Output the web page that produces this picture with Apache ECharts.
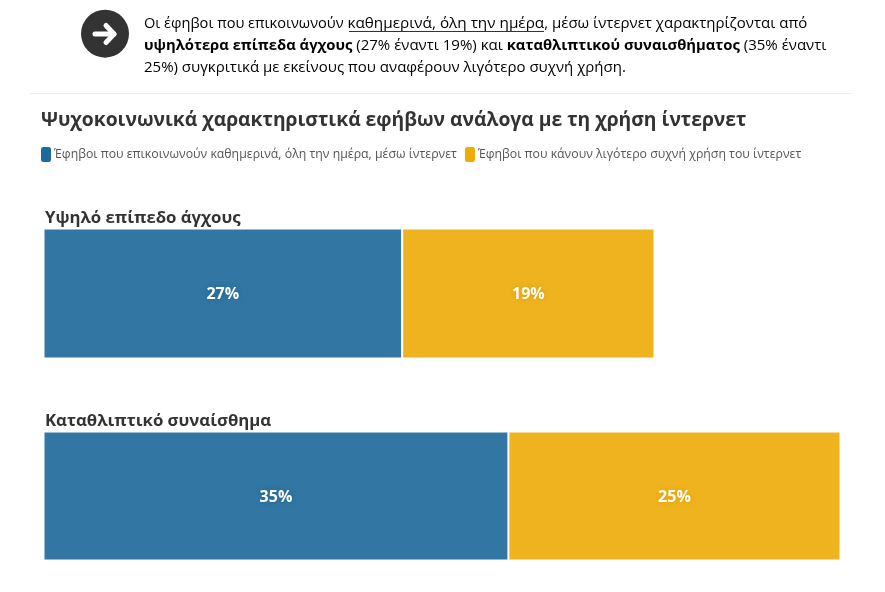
<!DOCTYPE html>
<html>
<head>
<meta charset="utf-8">
<style>
  html, body { margin: 0; padding: 0; background: #fff; }
  #chart { width: 885px; height: 592px; }
</style>
<script src="https://cdn.jsdelivr.net/npm/echarts@6/dist/echarts.min.js"></script>
</head>
<body>
<div id="chart"></div>
<script>
const categories = ['Υψηλό επίπεδο άγχους', 'Καταθλιπτικό συναίσθημα']
const dailyName = 'Έφηβοι που επικοινωνούν καθημερινά, όλη την ημέρα, μέσω ίντερνετ'
const lessName = 'Έφηβοι που κάνουν λιγότερο συχνή χρήση του ίντερνετ'
const dailyValues = [27, 35]
const lessValues = [19, 25]
const axisMax = 60

const font = '"Open Sans", "Noto Sans", sans-serif'
const dark = '#333333'

const chart = echarts.init(document.getElementById('chart'))

// one grid per category so the bars keep their own label above
const grids = [
  { left: 43.5, top: 228.5, width: 797, height: 130 },
  { left: 43.5, top: 431.5, width: 797, height: 129 }
]

const seriesFor = (name, values, color, glow) => values.map((v, i) => ({
  name,
  type: 'bar',
  stack: 'row' + i,
  xAxisIndex: i,
  yAxisIndex: i,
  barWidth: '100%',
  data: [v],
  itemStyle: { color, borderColor: '#fff', borderWidth: 1 },
  label: {
    show: true,
    position: 'inside',
    offset: [0, 1],
    formatter: '{c}%',
    color: '#fff',
    fontFamily: font,
    fontSize: 16,
    fontWeight: 'bold',
    textShadowColor: glow,
    textShadowBlur: 5
  }
}))

// intro paragraph, normal and bold runs per line
const richStyles = {
  p: { fontFamily: font, fontSize: 14.6, color: dark },
  u: { fontFamily: font, fontSize: 15.3, color: dark },
  n: { fontFamily: font, fontSize: 15, color: dark },
  b: { fontFamily: font, fontSize: 14.8, fontWeight: 'bold', color: dark }
}
const introLine = (top, text) => ({ type: 'text', left: 144, top, style: { text, rich: richStyles } })

chart.setOption({
  animation: false,
  graphic: [
    { type: 'circle', shape: { cx: 105, cy: 33.7, r: 24 }, style: { fill: dark } },
    { type: 'polyline', shape: { points: [[95, 34], [114, 34]] }, style: { stroke: '#fff', lineWidth: 5, lineCap: 'round', fill: null } },
    { type: 'polyline', shape: { points: [[106, 25.5], [114, 34], [106, 42.5]] }, style: { stroke: '#fff', lineWidth: 5, lineCap: 'round', lineJoin: 'round', fill: null } },
    introLine(16, '{p|Οι έφηβοι που επικοινωνούν }{u|καθημερινά, όλη την ημέρα}{n|, μέσω ίντερνετ χαρακτηρίζονται από}'),
    { type: 'line', shape: { x1: 349, y1: 31.5, x2: 544, y2: 31.5 }, style: { stroke: dark, lineWidth: 1 } },
    introLine(38, '{b|υψηλότερα επίπεδα άγχους}{n| (27% έναντι 19%) και }{b|καταθλιπτικού συναισθήματος}{n| (35% έναντι}'),
    introLine(60, '{n|25%) συγκριτικά με εκείνους που αναφέρουν λιγότερο συχνή χρήση.}'),
    { type: 'line', shape: { x1: 30, y1: 93.5, x2: 853, y2: 93.5 }, style: { stroke: '#eeeeee', lineWidth: 1 } },
    { type: 'text', left: 41, top: 111, style: { text: 'Ψυχοκοινωνικά χαρακτηριστικά εφήβων ανάλογα με τη χρήση ίντερνετ', font: 'bold 19.3px ' + font, fill: dark } },
    { type: 'text', left: 45, top: 210, style: { text: categories[0], font: 'bold 16.75px ' + font, fill: dark } },
    { type: 'text', left: 45, top: 413, style: { text: categories[1], font: 'bold 16.75px ' + font, fill: dark } }
  ],
  legend: {
    left: 36,
    top: 142,
    itemWidth: 10,
    itemHeight: 15,
    itemGap: 8,
    textStyle: { fontFamily: font, fontSize: 12.3, color: '#555', padding: [2, 0, 0, -2] },
    data: [
      { name: dailyName, icon: 'roundRect', itemStyle: { color: '#1f6a9c', borderWidth: 0 } },
      { name: lessName, icon: 'roundRect', itemStyle: { color: '#eeab00', borderWidth: 0 } }
    ]
  },
  grid: grids,
  xAxis: grids.map((g, i) => ({ type: 'value', gridIndex: i, min: 0, max: axisMax, show: false })),
  yAxis: grids.map((g, i) => ({ type: 'category', gridIndex: i, data: [categories[i]], show: false })),
  series: [
    ...seriesFor(dailyName, dailyValues, '#3277a3', '#1f5f88'),
    ...seriesFor(lessName, lessValues, '#eeb31e', '#e09a00')
  ]
})
</script>
</body>
</html>
